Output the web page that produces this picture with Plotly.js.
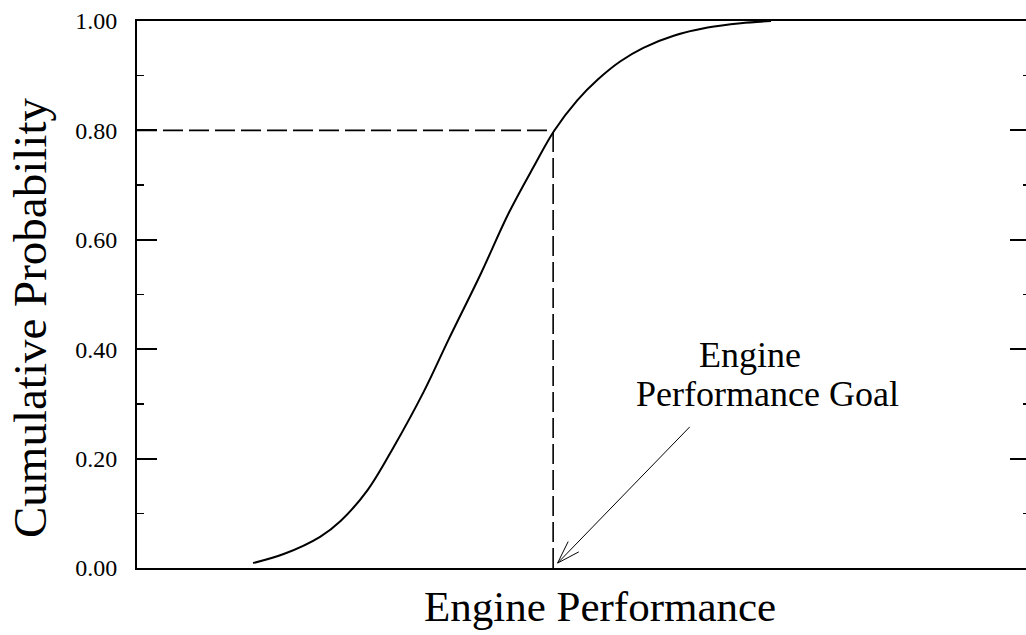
<!DOCTYPE html>
<html>
<head>
<meta charset="utf-8">
<script src="https://cdn.plot.ly/plotly-3.0.1.min.js"></script>
<style>
html, body { margin: 0; padding: 0; background: #fff; overflow: hidden; }
#chart { width: 1030px; height: 635px; }
</style>
</head>
<body>
<div id="chart"></div>
<script>
// Engine performance (arbitrary units, 0-100) and cumulative probability
var perfX   = [13.0, 16.5, 20.5, 22.8, 25.8, 28.7, 32.1, 34.9, 38.5, 41.6, 44.4, 46.7, 49.3, 51.6, 54.1, 56.7, 60.1, 63.9, 67.6, 71.0];
var cumProb = [0.009, 0.026, 0.057, 0.086, 0.142, 0.220, 0.322, 0.418, 0.538, 0.648, 0.733, 0.799, 0.855, 0.893, 0.926, 0.951, 0.973, 0.988, 0.996, 1.000];

var goalX = 46.6;
var goalP = 0.80;

var yTickVals  = [0, 0.2, 0.4, 0.6, 0.8, 1.0];
var yTickText  = ["0.00", "0.20", "0.40", "0.60", "0.80", "1.00"];

var arrowTip  = [47.1, 0.009];
var arrowTail = [61.9, 0.258];

var labelLine1 = "Engine";
var labelLine2 = "Performance Goal";

// layout geometry
var W = 1030, H = 635, ML = 137, MR = 0, MT = 21, MB = 67;
var xRange = [0, 100], yRange = [0, 1];
var pxX = (W - ML - MR) / (xRange[1] - xRange[0]);
var pxY = (H - MT - MB) / (yRange[1] - yRange[0]);

// arrow barbs computed in pixel space
function barb(sign) {
  var dx = (arrowTail[0] - arrowTip[0]) * pxX;
  var dy = (arrowTail[1] - arrowTip[1]) * pxY;
  var ang = Math.atan2(dy, dx) + sign * 18 * Math.PI / 180;
  var len = 24;
  return [arrowTip[0] + len * Math.cos(ang) / pxX, arrowTip[1] + len * Math.sin(ang) / pxY];
}
var b1 = barb(1), b2 = barb(-1);

var font = "Liberation Serif, Times New Roman, serif";

var traces = [
  {
    x: perfX, y: cumProb, type: "scatter", mode: "lines",
    line: { color: "#000", width: 2, shape: "spline", smoothing: 1 },
    hoverinfo: "skip", showlegend: false
  },
  {
    x: [xRange[0], goalX], y: [goalP, goalP], type: "scatter", mode: "lines",
    line: { color: "#000", width: 1.6, dash: "20px,6px" },
    hoverinfo: "skip", showlegend: false
  },
  {
    x: [goalX, goalX], y: [yRange[0], goalP], type: "scatter", mode: "lines",
    line: { color: "#000", width: 1.6, dash: "20px,6px" },
    hoverinfo: "skip", showlegend: false
  }
];

var shapes = [
  { type: "line", xref: "x", yref: "y", x0: arrowTail[0], y0: arrowTail[1], x1: arrowTip[0], y1: arrowTip[1], line: { color: "#000", width: 1 } },
  { type: "line", xref: "x", yref: "y", x0: arrowTip[0], y0: arrowTip[1], x1: b1[0], y1: b1[1], line: { color: "#000", width: 1 } },
  { type: "line", xref: "x", yref: "y", x0: arrowTip[0], y0: arrowTip[1], x1: b2[0], y1: b2[1], line: { color: "#000", width: 1 } }
];

var layout = {
  width: W, height: H,
  margin: { l: ML, r: MR, t: MT, b: MB, pad: 0 },
  paper_bgcolor: "#fff", plot_bgcolor: "#fff",
  font: { family: font, color: "#000" },
  xaxis: {
    range: xRange, showgrid: false, zeroline: false, showticklabels: false,
    ticks: "", showline: true, linecolor: "#000", linewidth: 2, mirror: true,
    fixedrange: true
  },
  yaxis: {
    range: yRange, showgrid: false, zeroline: false,
    tickvals: yTickVals, ticktext: yTickText,
    ticks: "inside", ticklen: 20, tickwidth: 2, tickcolor: "#000",
    minor: { dtick: 0.1, ticks: "inside", ticklen: 7, tickwidth: 1.5, tickcolor: "#000", showgrid: false },
    tickfont: { family: font, size: 24, color: "#000" },
    ticklabelstandoff: 13,
    showline: true, linecolor: "#000", linewidth: 2, mirror: "ticks",
    fixedrange: true
  },
  shapes: shapes,
  annotations: [
    { text: "Cumulative Probability", xref: "paper", yref: "paper", x: (30 - ML) / (W - ML - MR), y: (568 - 318) / (H - MT - MB),
      xanchor: "center", yanchor: "middle", textangle: -90, showarrow: false, font: { family: font, size: 47, color: "#000" } },
    { text: "Engine Performance", xref: "paper", yref: "paper", x: (600 - ML) / (W - ML - MR), y: (568 - 606) / (H - MT - MB),
      xanchor: "center", yanchor: "middle", showarrow: false, font: { family: font, size: 43, color: "#000" } },
    { text: labelLine1, xref: "x", yref: "y", x: 68.6, y: 0.390, xanchor: "center", yanchor: "middle", showarrow: false,
      font: { family: font, size: 36, color: "#000" } },
    { text: labelLine2, xref: "x", yref: "y", x: 70.6, y: 0.318, xanchor: "center", yanchor: "middle", showarrow: false,
      font: { family: font, size: 36, color: "#000" } }
  ]
};

Plotly.newPlot("chart", traces, layout, { displayModeBar: false, staticPlot: true });
</script>
</body>
</html>
